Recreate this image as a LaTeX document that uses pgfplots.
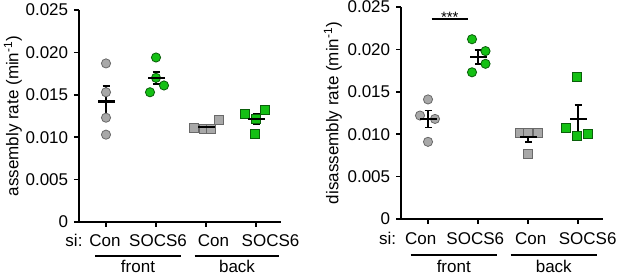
\documentclass[border=0pt]{standalone}
\usepackage{fontspec}
\setmainfont{Liberation Sans}
\usepackage{pgfplots}
\pgfplotsset{compat=1.18}
\definecolor{gfill}{RGB}{168,168,168}
\definecolor{gedge}{RGB}{105,105,105}
\definecolor{grfill}{RGB}{20,192,20}
\definecolor{gredge}{RGB}{10,95,10}
\newcommand\sh[2]{\makebox[0pt]{\hspace*{#1}#2}}
\tikzset{grp/.style={anchor=base, inner sep=0pt}}
\pgfplotsset{
  panel/.style={
    scale only axis, width=202pt, height=212pt,
    xmin=0.46, xmax=4.5, ymin=0, ymax=0.025,
    axis lines*=left, axis line style={line width=1.6pt},
    every tick/.style={line width=1.6pt, black}, major tick length=5pt, tick align=outside,
    xtick={1,2,3,4}, ytick={0,0.005,0.01,0.015,0.02,0.025},
    yticklabels={0,0.005,0.010,0.015,0.020,0.025},
    scaled y ticks=false,
    /pgf/number format/assume math mode=true,
    clip=false,
    ylabel style={anchor=center},
    xticklabel style={anchor=base, yshift=-20pt},
  },
  greyc/.style={only marks, mark=*, mark size=4.6pt, mark options={fill=gfill, draw=gedge, line width=0.8pt}},
  greenc/.style={only marks, mark=*, mark size=4.6pt, mark options={fill=grfill, draw=gredge, line width=0.8pt}},
  greys/.style={only marks, mark=square*, mark size=4.5pt, mark options={fill=gfill, draw=gedge, line width=0.8pt}},
  greens/.style={only marks, mark=square*, mark size=4.5pt, mark options={fill=grfill, draw=gredge, line width=0.8pt}},
  meanbar/.style={only marks, black, mark=-, mark size=8.5pt, mark options={line width=2.2pt},
    error bars/.cd, y dir=both, y explicit,
    error bar style={line width=1.8pt, black},
    error mark options={rotate=90, mark size=3.5pt, line width=1.8pt, black}},
}
\begin{document}
\fontsize{17pt}{20pt}\selectfont
\begin{tikzpicture}
\useasboundingbox (0,0) rectangle (617pt,275pt);
% ---------- left panel ----------
\begin{axis}[panel, at={(79pt,53pt)}, anchor=south west,
  ylabel={assembly rate (min\textsuperscript{-1})},
  ylabel style={at={(axis description cs:-0.327,0.5)}},
  xticklabels={\sh{-2pt}{Con},\sh{4pt}{SOCS6},\sh{15pt}{Con},\sh{29pt}{SOCS6}}]
\addplot[greyc] coordinates {(1,0.0187) (1,0.0153) (1,0.0123) (1,0.0103)};
\addplot[greenc] coordinates {(2,0.0194) (2,0.0170) (2.16,0.0161) (1.88,0.0153)};
\addplot[greys] coordinates {(2.75,0.0111) (2.95,0.0110) (3.1,0.0110) (3.25,0.0120)};
\addplot[greens] coordinates {(3.77,0.0127) (4.18,0.0132) (4,0.0122) (3.98,0.0104)};
\addplot[meanbar] coordinates {(1,0.0142) +- (0,0.0018) (2,0.0170) +- (0,0.0007) (3,0.0112) +- (0,0.0002) (4,0.0121) +- (0,0.0006)};
\node[anchor=base, yshift=-25pt] at (axis cs:0.36,0) {si:};
\draw[line width=1.3pt] ([yshift=-34pt]axis cs:0.78,0) -- ([yshift=-34pt]axis cs:2.50,0);
\draw[line width=1.3pt] ([yshift=-34pt]axis cs:2.77,0) -- ([yshift=-34pt]axis cs:4.46,0);
\node[grp, yshift=-50.5pt] at (axis cs:1.64,0) {front};
\node[grp, yshift=-50.5pt] at (axis cs:3.62,0) {back};
\end{axis}
% ---------- right panel ----------
\begin{axis}[panel, at={(401pt,56pt)}, anchor=south west,
  ylabel={disassembly rate (min\textsuperscript{-1})},
  ylabel style={at={(axis description cs:-0.337,0.5)}},
  xticklabel style={yshift=-1pt},
  xticklabels={\sh{-14.6pt}{Con},\sh{-5.4pt}{SOCS6},\sh{5.4pt}{Con},\sh{19.4pt}{SOCS6}}]
\addplot[greyc] coordinates {(1,0.0141) (0.84,0.0122) (1.14,0.0118) (1,0.0091)};
\addplot[greenc] coordinates {(1.88,0.0212) (2.15,0.0198) (2.15,0.0183) (1.88,0.0173)};
\addplot[greys] coordinates {(2.83,0.0102) (3,0.0102) (3.2,0.0102) (3,0.0077)};
\addplot[greens] coordinates {(3.97,0.0167) (3.76,0.0107) (4.2,0.0100) (3.97,0.0098)};
\addplot[meanbar] coordinates {(1,0.0118) +- (0,0.0010) (2,0.0191) +- (0,0.0008) (3,0.0097) +- (0,0.0006) (4,0.0118) +- (0,0.0016)};
\draw[line width=1.2pt] (axis cs:1.07,0.02358) -- (axis cs:1.80,0.02358);
\node[anchor=base, yshift=-3pt, font=\fontsize{15pt}{18pt}\selectfont] at (axis cs:1.435,0.02358) {***};
\node[anchor=base, yshift=-26pt] at (axis cs:0.19,0) {si:};
\draw[line width=1.3pt] ([yshift=-36pt]axis cs:0.65,0) -- ([yshift=-36pt]axis cs:2.38,0);
\draw[line width=1.3pt] ([yshift=-36pt]axis cs:2.65,0) -- ([yshift=-36pt]axis cs:4.38,0);
\node[grp, yshift=-53.5pt] at (axis cs:1.515,0) {front};
\node[grp, yshift=-53.5pt] at (axis cs:3.515,0) {back};
\end{axis}
\end{tikzpicture}
\end{document}
